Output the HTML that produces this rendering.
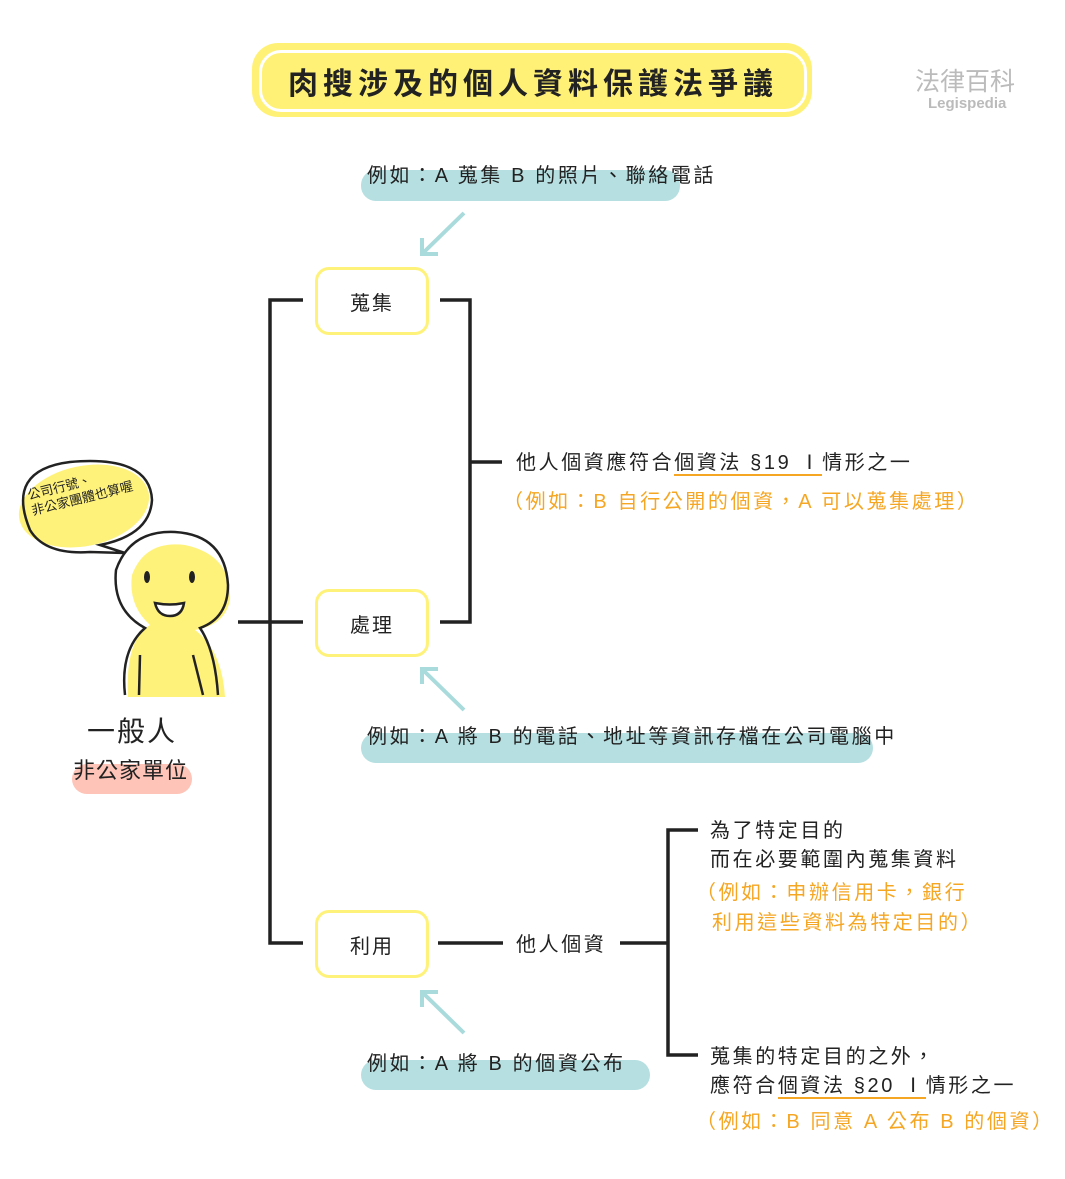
<!DOCTYPE html>
<html><head><meta charset="utf-8"><style>
body{margin:0;width:1065px;height:1179px;background:#fff;position:relative;overflow:hidden;font-family:"Liberation Sans","Noto Sans CJK TC",sans-serif;color:#222}
.a{position:absolute;white-space:nowrap}
.t{font-size:20px;line-height:28px;letter-spacing:2.6px}
.o{color:#f5a623}
.bar{position:absolute;background:#b5dfe1;border-radius:15px}
.node{position:absolute;width:108px;height:62px;border:3px solid #fff27a;border-radius:14px;background:#fff;font-size:20px;display:flex;align-items:center;justify-content:center;letter-spacing:2px}
.u{border-bottom:2px solid #f5a623}
</style></head><body>
<div class="a" style="left:252px;top:43px;width:560px;height:74px;background:#fff176;border-radius:26px"></div>
<div class="a" style="left:259px;top:50px;width:542px;height:56px;border:3px solid #fff;border-radius:22px;font-size:30px;font-weight:bold;display:flex;align-items:center;justify-content:center;letter-spacing:5px">肉搜涉及的個人資料保護法爭議</div>
<div class="a" style="left:915px;top:62px;font-size:25px;color:#bbb">法律百科</div>
<div class="a" style="left:928px;top:95px;font-size:15px;color:#bbb;font-weight:bold">Legispedia</div>

<svg class="a" style="left:0;top:0" width="1065" height="1179">
<g stroke="#222" stroke-width="3.5" fill="none">
<polyline points="303,300 270,300 270,943 303,943"/>
<line x1="238" y1="622" x2="303" y2="622"/>
<polyline points="440,300 470,300 470,622 440,622"/>
<line x1="470" y1="462" x2="502" y2="462"/>
<line x1="438" y1="943" x2="503" y2="943"/>
<line x1="620" y1="943" x2="668" y2="943"/>
<polyline points="698,830 668,830 668,1055 698,1055"/>
</g>
<g stroke="#a9dadc" stroke-width="4" fill="none">
<line x1="464" y1="213" x2="424" y2="252"/><polyline points="422,238 422,254 438,254"/>
<line x1="464" y1="710" x2="424" y2="671"/><polyline points="422,684 422,669 438,669"/>
<line x1="464" y1="1033" x2="424" y2="994"/><polyline points="422,1007 422,992 438,992"/>
</g>
<ellipse cx="84" cy="506" rx="66" ry="40" fill="#fff27a" transform="rotate(-12 84 506)"/>
<path d="M30 530 Q5 470 70 462 Q150 455 152 500 Q150 535 100 545 L125 553 L90 552 Q45 555 30 530Z" fill="none" stroke="#222" stroke-width="2.5"/>
<path d="M128 697 Q125 640 150 625 Q128 605 132 575 Q145 540 185 545 Q232 555 230 600 Q225 625 195 630 Q222 650 225 697Z" fill="#fff27a"/>
<path d="M125 695 Q120 650 145 628 Q112 610 116 570 Q130 530 175 532 Q225 535 228 585 Q228 618 200 628 Q215 650 218 695" fill="none" stroke="#222" stroke-width="2.5"/>
<line x1="140" y1="655" x2="139" y2="695" stroke="#222" stroke-width="2.5"/>
<line x1="193" y1="655" x2="203" y2="695" stroke="#222" stroke-width="2.5"/>
<ellipse cx="147" cy="577" rx="3" ry="6" fill="#222"/><ellipse cx="192" cy="577" rx="3" ry="6" fill="#222"/>
<path d="M155 603 Q170 606 184 603 Q182 616 170 616 Q158 616 155 603Z" fill="#fff" stroke="#222" stroke-width="2.5"/>
</svg>
<div class="a" style="left:26px;top:488px;font-size:13px;line-height:16px;transform:rotate(-14deg);transform-origin:left top">公司行號、<br>非公家團體也算喔</div>
<div class="a" style="left:87px;top:710px;font-size:28px;letter-spacing:2px">一般人</div>
<div class="bar" style="left:72px;top:764px;width:120px;height:30px;background:#fec4b7"></div>
<div class="a t" style="left:73px;top:757px;font-size:22px;letter-spacing:1px">非公家單位</div>

<div class="bar" style="left:361px;top:170px;width:319px;height:31px"></div>
<div class="a t" style="left:367px;top:162px">例如：A 蒐集 B 的照片、聯絡電話</div>
<div class="bar" style="left:361px;top:733px;width:512px;height:30px"></div>
<div class="a t" style="left:367px;top:723px">例如：A 將 B 的電話、地址等資訊存檔在公司電腦中</div>
<div class="bar" style="left:361px;top:1060px;width:289px;height:30px"></div>
<div class="a t" style="left:367px;top:1050px">例如：A 將 B 的個資公布</div>

<div class="node" style="left:315px;top:267px">蒐集</div>
<div class="node" style="left:315px;top:589px">處理</div>
<div class="node" style="left:315px;top:910px">利用</div>

<div class="a t" style="left:516px;top:449px">他人個資應符合<span class="u">個資法 §19 Ⅰ</span>情形之一</div>
<div class="a t o" style="left:503px;top:488px">（例如：B 自行公開的個資，A 可以蒐集處理）</div>
<div class="a t" style="left:516px;top:931px">他人個資</div>
<div class="a t" style="left:710px;top:817px;line-height:29px">為了特定目的<br>而在必要範圍內蒐集資料</div>
<div class="a t o" style="left:696px;top:878px;line-height:30px">（例如：申辦信用卡，銀行</div>
<div class="a t o" style="left:712px;top:908px;line-height:30px">利用這些資料為特定目的）</div>
<div class="a t" style="left:710px;top:1043px;line-height:29px">蒐集的特定目的之外，<br>應符合<span class="u">個資法 §20 Ⅰ</span>情形之一</div>
<div class="a t o" style="left:696px;top:1108px">（例如：B 同意 A 公布 B 的個資）</div>
</body></html>
